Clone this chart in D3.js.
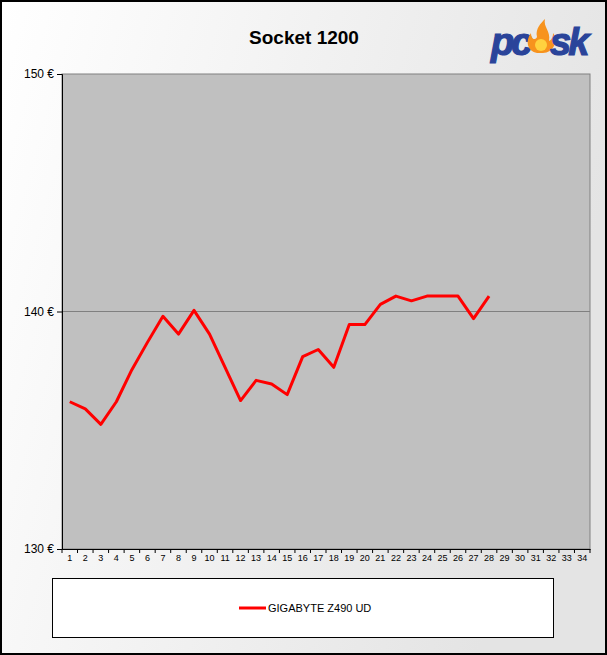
<!DOCTYPE html>
<html>
<head>
<meta charset="utf-8">
<script src="https://cdn.jsdelivr.net/npm/d3@7"></script>
<style>
  body { margin: 0; background: #fff; }
  text { font-family: Arial, "Liberation Sans", sans-serif; }
</style>
</head>
<body>
<div id="chart"></div>
<script>
// data
const days = d3.range(1, 35);
const seriesName = "GIGABYTE Z490 UD";
const prices = [136.2, 135.9, 135.25, 136.2, 137.55, 138.7, 139.8, 139.05, 140.05, 139.05,
  137.65, 136.25, 137.1, 136.95, 136.5, 138.1, 138.4, 137.65, 139.45, 139.45,
  140.3, 140.65, 140.45, 140.65, 140.65, 140.65, 139.7, 140.65];
const yTicks = [130, 140, 150];
const title = "Socket 1200";

const W = 607, H = 655;
const plot = { left: 62, right: 590, top: 74, bottom: 549 };

const svg = d3.select("#chart").append("svg")
  .attr("width", W).attr("height", H);

const defs = svg.append("defs");
const grad = defs.append("linearGradient").attr("id", "bg").attr("x1", "0").attr("x2", "1").attr("y1", "0").attr("y2", "0.3");
grad.append("stop").attr("offset", "0").attr("stop-color", "#ffffff");
grad.append("stop").attr("offset", "1").attr("stop-color", "#e4e4e4");

svg.append("rect")
  .attr("x", 1).attr("y", 1).attr("width", W - 2).attr("height", H - 2)
  .attr("fill", "url(#bg)").attr("stroke", "#000").attr("stroke-width", 2);

svg.append("text")
  .attr("x", 304).attr("y", 44)
  .attr("text-anchor", "middle")
  .style("font-size", "19px").style("font-weight", "bold")
  .text(title);

// logo
const logo = svg.append("g").attr("transform", "translate(491,55)");
logo.append("text").attr("x", 0).attr("y", 0)
  .style("font-size", "38px").style("font-weight", "900").style("font-style", "italic")
  .style("letter-spacing", "-3px")
  .attr("fill", "#2a449a").attr("stroke", "#2a449a").attr("stroke-width", 1.2)
  .text("pc");
logo.append("path")
  .attr("d", "M46,-2 C36,-4 34,-14 40,-22 C40,-16 44,-14 46,-18 C44,-26 50,-32 54,-36 C52,-28 60,-24 58,-14 C62,-16 62,-20 62,-22 C68,-14 62,-2 52,-2 Z")
  .attr("fill", "#f7931e");
logo.append("circle").attr("cx", 50).attr("cy", -10).attr("r", 6).attr("fill", "#ffd23f");
logo.append("text").attr("x", 59).attr("y", 0)
  .style("font-size", "38px").style("font-weight", "900").style("font-style", "italic")
  .style("letter-spacing", "-3px")
  .attr("fill", "#2a449a").attr("stroke", "#2a449a").attr("stroke-width", 1.2)
  .text("sk");

const x = d3.scaleBand().domain(days).range([plot.left, plot.right]);
const y = d3.scaleLinear().domain([130, 150]).range([plot.bottom, plot.top]);

svg.append("rect")
  .attr("x", plot.left).attr("y", plot.top)
  .attr("width", plot.right - plot.left).attr("height", plot.bottom - plot.top)
  .attr("fill", "#c0c0c0").attr("stroke", "#808080").attr("stroke-width", 1);

// grid
svg.append("g").selectAll("line")
  .data(yTicks.filter(d => d !== 130 && d !== 150))
  .join("line")
  .attr("x1", plot.left).attr("x2", plot.right)
  .attr("y1", d => y(d)).attr("y2", d => y(d))
  .attr("stroke", "#808080");

const yAxis = svg.append("g")
  .attr("transform", `translate(${plot.left},0)`)
  .call(d3.axisLeft(y).tickValues(yTicks).tickSize(5).tickPadding(3).tickFormat(d => d + " €"));
yAxis.select(".domain").attr("stroke", "#000");
yAxis.selectAll("text").style("font-size", "12px").attr("fill", "#000");

const xAxis = svg.append("g")
  .attr("transform", `translate(0,${plot.bottom})`)
  .call(d3.axisBottom(x).tickSize(0).tickPadding(6));
xAxis.select(".domain").attr("stroke", "#000");
xAxis.selectAll("text").style("font-size", "9px").attr("fill", "#000");
// tick marks between categories
xAxis.append("g").selectAll("line")
  .data(days.concat([35]))
  .join("line")
  .attr("x1", d => d <= 34 ? x(d) : plot.right)
  .attr("x2", d => d <= 34 ? x(d) : plot.right)
  .attr("y1", 0).attr("y2", 4)
  .attr("stroke", "#000");

const line = d3.line()
  .x((d, i) => x(days[i]) + x.bandwidth() / 2)
  .y(d => y(d));

svg.append("path")
  .datum(prices)
  .attr("d", line)
  .attr("fill", "none")
  .attr("stroke", "#ff0000")
  .attr("stroke-width", 3)
  .attr("stroke-linejoin", "round");

// legend
svg.append("rect")
  .attr("x", 52.5).attr("y", 578.5).attr("width", 501).attr("height", 59)
  .attr("fill", "#fff").attr("stroke", "#000");
svg.append("line")
  .attr("x1", 239).attr("x2", 266).attr("y1", 608).attr("y2", 608)
  .attr("stroke", "#ff0000").attr("stroke-width", 3);
svg.append("text")
  .attr("x", 268).attr("y", 612)
  .style("font-size", "11px")
  .text(seriesName);
</script>
</body>
</html>
